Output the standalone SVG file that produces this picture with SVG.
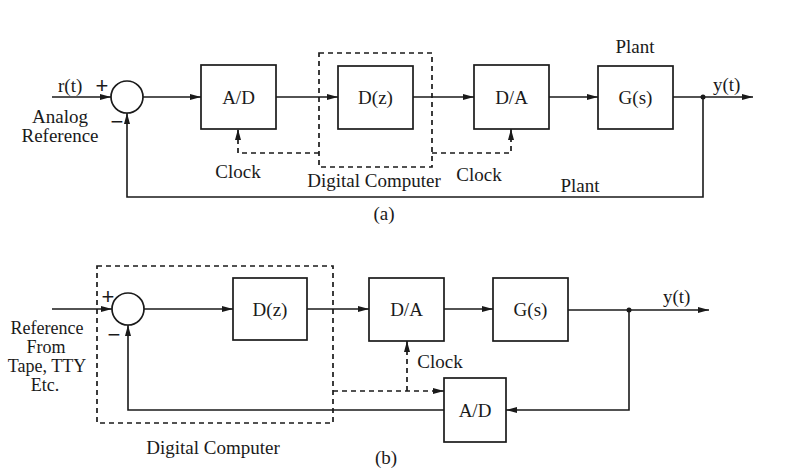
<svg xmlns="http://www.w3.org/2000/svg" width="785" height="470" viewBox="0 0 785 470">
<defs>
<marker id="arr" markerUnits="userSpaceOnUse" markerWidth="12" markerHeight="8" refX="11" refY="3.5" orient="auto">
<path d="M0,0.5 L11,3.5 L0,6.5 z" fill="#1a1a1a"/>
</marker>
</defs>
<style>
.box{fill:none;stroke:#1a1a1a;stroke-width:1.7}
.ln{fill:none;stroke:#1a1a1a;stroke-width:1.6}
.dash{fill:none;stroke:#1a1a1a;stroke-width:1.7;stroke-dasharray:5,4}
.t{font-family:"Liberation Serif","Times New Roman",serif;font-size:19px;fill:#1a1a1a}
.s{font-family:"Liberation Sans","Arial",sans-serif;font-size:22px;fill:#1a1a1a}
.sm{font-size:18px}
.c{text-anchor:middle}
</style>
<rect width="785" height="470" fill="#fff"/>

<!-- Diagram (a) -->
<g id="a-computer"><rect class="dash" x="319" y="53" width="113" height="114"/>
<text class="t c" x="374" y="187">Digital Computer</text></g>
<g id="a-sum"><circle class="box" cx="127" cy="97" r="16"/>
<text class="s c" x="102" y="93">+</text><text class="s c" x="117" y="129">−</text></g>
<g id="a-ad"><rect class="box" x="201" y="65" width="75" height="64"/><text class="t c" x="238.5" y="104">A/D</text></g>
<g id="a-dz"><rect class="box" x="338" y="66" width="75" height="63"/><text class="t c" x="375.5" y="104">D(z)</text></g>
<g id="a-da"><rect class="box" x="474" y="65" width="75" height="64"/><text class="t c" x="511.5" y="104">D/A</text></g>
<g id="a-gs"><rect class="box" x="598" y="66" width="75" height="63"/><text class="t c" x="635.5" y="104">G(s)</text>
<text class="t c" x="635" y="53">Plant</text></g>
<g id="a-labels">
<text class="t" x="58" y="92">r(t)</text>
<text class="t c" x="60" y="123">Analog</text>
<text class="t c" x="60" y="142">Reference</text>
<text class="t" x="713" y="91">y(t)</text>
<text class="t c" x="238" y="178">Clock</text>
<text class="t c" x="479" y="181">Clock</text>
<text class="t c" x="580" y="192">Plant</text>
<text class="t c" x="384" y="220">(a)</text>
</g>
<g id="a-connectors">
<path class="ln" d="M52,97 H111" marker-end="url(#arr)"/>
<path class="ln" d="M143,97 H201" marker-end="url(#arr)"/>
<path class="ln" d="M276,97 H338" marker-end="url(#arr)"/>
<path class="ln" d="M413,97 H474" marker-end="url(#arr)"/>
<path class="ln" d="M549,97 H598" marker-end="url(#arr)"/>
<path class="ln" d="M673,97 H753" marker-end="url(#arr)"/>
<path class="ln" d="M703,97 V197 H127 V113" marker-end="url(#arr)"/>
<circle cx="703" cy="97" r="2.5" fill="#1a1a1a"/>
<path class="dash" d="M319,153 H238 V129" marker-end="url(#arr)"/>
<path class="dash" d="M432,153 H511 V129" marker-end="url(#arr)"/>
</g>

<!-- Diagram (b) -->
<g id="b-computer"><rect class="dash" x="97" y="266" width="236" height="157"/>
<text class="t c" x="213" y="454">Digital Computer</text></g>
<g id="b-sum"><circle class="box" cx="128" cy="309" r="16"/>
<text class="s c" x="108" y="304">+</text><text class="s c" x="114" y="342">−</text></g>
<g id="b-dz"><rect class="box" x="233" y="278" width="74" height="62"/><text class="t c" x="270" y="316">D(z)</text></g>
<g id="b-da"><rect class="box" x="369" y="278" width="75" height="63"/><text class="t c" x="406.5" y="316">D/A</text></g>
<g id="b-gs"><rect class="box" x="493" y="278" width="75" height="63"/><text class="t c" x="530.5" y="316">G(s)</text></g>
<g id="b-ad"><rect class="box" x="444" y="378" width="62" height="64"/><text class="t c" x="475" y="417">A/D</text></g>
<g id="b-labels">
<text class="t sm c" x="47" y="334">Reference</text>
<text class="t sm c" x="46" y="353">From</text>
<text class="t sm c" x="47" y="372">Tape, TTY</text>
<text class="t sm c" x="45" y="391">Etc.</text>
<text class="t" x="663" y="303">y(t)</text>
<text class="t c" x="440" y="368">Clock</text>
<text class="t c" x="386" y="464">(b)</text>
</g>
<g id="b-connectors">
<path class="ln" d="M52,309 H112" marker-end="url(#arr)"/>
<path class="ln" d="M144,309 H233" marker-end="url(#arr)"/>
<path class="ln" d="M307,309 H369" marker-end="url(#arr)"/>
<path class="ln" d="M444,309 H493" marker-end="url(#arr)"/>
<path class="ln" d="M568,310 H709" marker-end="url(#arr)"/>
<circle cx="629" cy="310" r="2.5" fill="#1a1a1a"/>
<path class="ln" d="M629,310 V410 H506" marker-end="url(#arr)"/>
<path class="ln" d="M444,410 H128 V325" marker-end="url(#arr)"/>
<path class="dash" d="M333,391 H444" marker-end="url(#arr)"/>
<path class="dash" d="M407,391 V341" marker-end="url(#arr)"/>
</g>
</svg>
